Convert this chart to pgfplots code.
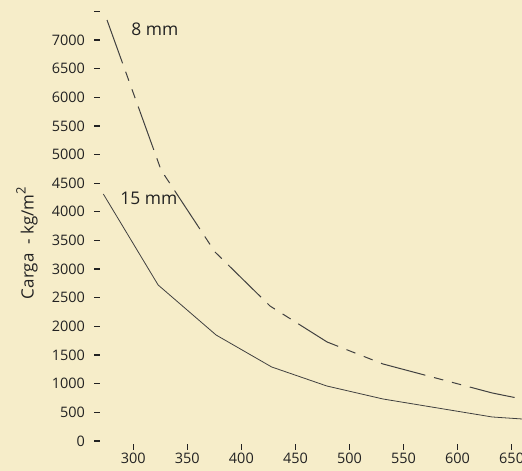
\documentclass[border=0pt]{standalone}
\usepackage{pgfplots}
\pgfplotsset{compat=1.18}
\usepackage{fontspec}
\setmainfont{Open Sans}
\usetikzlibrary{backgrounds}
\definecolor{bg}{HTML}{F6EDC9}
\definecolor{ink}{HTML}{404040}
\definecolor{txt}{HTML}{222222}
\begin{document}
\begin{tikzpicture}
 \begin{axis}[
   scale only axis,
   width=424.5bp, height=447bp,
   xmin=266.9, xmax=659.6,
   ymin=-105, ymax=7698,
   axis x line*=bottom, axis y line*=left,
   axis line style={draw=none},
   clip=false,
   xtick={300,350,...,650},
   ytick={0,500,...,7500},
   yticklabels={0,500,1000,1500,2000,2500,3000,3500,4000,4500,5000,5500,6000,6500,7000,},
   tick align=center,
   major tick length=6bp,
   tick style={draw=txt, line width=1.3pt},
   /pgf/number format/assume math mode=true,
   /pgf/number format/1000 sep={},
   ticklabel style={font=\fontsize{14.5}{16}\selectfont, text=txt},
   yticklabel style={xshift=-6bp},
   ylabel={Carga\ \ - kg/m{\fontsize{13}{14}\selectfont\raisebox{0.62em}{2}}},
   ylabel style={at={(axis description cs:-0.166,0.456)}, anchor=center,
     font=\fontsize{17}{20}\selectfont, text=txt},
   every axis plot/.append style={draw=ink, line join=miter},
 ]
   % 15 mm
   \addplot[line width=0.8pt] coordinates {
     (272.3,4311) (323,2723) (376.6,1850) (428,1292)
     (479,960) (531,733) (632,419) (659.5,384)
   };
   % 8 mm
   \addplot[line width=1pt, dash pattern=on 46bp off 9bp on 9.5bp off 9bp on 9.5bp off 9bp] coordinates {
     (275.7,7348) (325.7,4730) (375.6,3299) (426.5,2356)
     (479.3,1728) (531,1344) (632,838) (659.5,733)
   };
   \node[font=\fontsize{17.5}{20}\selectfont, text=txt] at (axis cs:320,7191) {8 mm};
   \node[font=\fontsize{17.5}{20}\selectfont, text=txt] at (axis cs:314.5,4242) {15 mm};
   \draw[txt, line width=1.3pt] (axis cs:250,-105) ++(0,-3bp) -- ++(0,6bp);
 \end{axis}
 \pgfresetboundingbox
 \path[use as bounding box] (current axis.south west) ++(-97.5bp,-24bp) coordinate (bbsw)
   rectangle (current axis.north east);
 \begin{pgfonlayer}{background}
   \fill[bg] (bbsw) rectangle (current axis.north east);
 \end{pgfonlayer}
\end{tikzpicture}
\end{document}
